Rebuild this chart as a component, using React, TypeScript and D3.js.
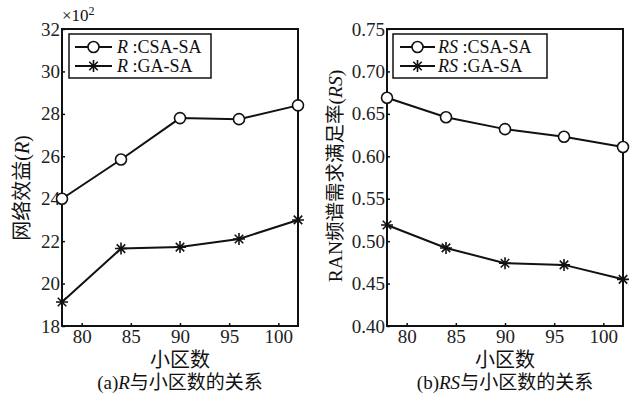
import { axisBottom, axisLeft, line, scaleLinear, select } from 'd3';
import React, { useEffect, useRef } from 'react';

// 小区数
const cells = [78, 84, 90, 96, 102];
const xTicks = [80, 85, 90, 95, 100];

// (a) 网络效益 R (×10^2)
const rCsa = [24.0, 25.85, 27.8, 27.75, 28.4];
const rGa = [19.13, 21.65, 21.72, 22.1, 23.0];
const rTicks = [18, 20, 22, 24, 26, 28, 30, 32];

// (b) RAN 频谱需求满足率 RS
const rsCsa = [0.669, 0.646, 0.632, 0.623, 0.611];
const rsGa = [0.519, 0.492, 0.474, 0.472, 0.455];
const rsTicks = [0.4, 0.45, 0.5, 0.55, 0.6, 0.65, 0.7, 0.75];

const serif = 'Liberation Serif, DejaVu Serif, Times New Roman, serif';
const cjk = 'Liberation Serif, Noto Sans CJK SC, serif';

function drawPanel(g, opts) {
  const { x0, x1, y0, y1, domain, ticks, fmt, csa, ga, legendX, legendW, leg, sym, ylabel, caption, xlabelX } = opts;
  const x = scaleLinear().domain([78, 102]).range([x0, x1]);
  const y = scaleLinear().domain(domain).range([y1, y0]);

  g.append('rect')
    .attr('x', x0).attr('y', y0)
    .attr('width', x1 - x0).attr('height', y1 - y0)
    .attr('fill', 'none').attr('stroke', '#111').attr('stroke-width', 2);

  const yAxis = g.append('g')
    .attr('transform', `translate(${x0},0)`)
    .call(axisLeft(y).tickValues(ticks).tickFormat(fmt).tickSizeInner(-3).tickSizeOuter(0).tickPadding(2));
  const xAxis = g.append('g')
    .attr('transform', `translate(0,${y1})`)
    .call(axisBottom(x).tickValues(xTicks).tickSizeInner(-3).tickSizeOuter(0).tickPadding(4));
  [yAxis, xAxis].forEach(a => {
    a.attr('font-family', serif).attr('font-size', 19);
    a.select('.domain').remove();
    a.selectAll('line').attr('stroke', '#111').attr('stroke-width', 1.5);
    a.selectAll('text').attr('fill', '#222');
  });

  const gen = line().x((d, i) => x(cells[i])).y(d => y(d));
  [csa, ga].forEach(s => {
    g.append('path').attr('d', gen(s)).attr('fill', 'none')
      .attr('stroke', '#111').attr('stroke-width', 2);
  });

  const circle = (sel, cx, cy) =>
    sel.append('circle').attr('cx', cx).attr('cy', cy).attr('r', 5.5)
      .attr('fill', 'white').attr('stroke', '#111').attr('stroke-width', 1.6);
  const star = (sel, cx, cy) => {
    const r = 6;
    const d = [0, 45, 90, 135].map(a => {
      const t = (a * Math.PI) / 180;
      const dx = r * Math.cos(t), dy = r * Math.sin(t);
      return `M${cx - dx},${cy - dy}L${cx + dx},${cy + dy}`;
    }).join('');
    sel.append('path').attr('d', d).attr('stroke', '#111').attr('stroke-width', 1.6);
  };
  csa.forEach((v, i) => circle(g, x(cells[i]), y(v)));
  ga.forEach((v, i) => star(g, x(cells[i]), y(v)));

  // legend
  const ly = y0 + 5;
  g.append('rect').attr('x', legendX).attr('y', ly).attr('width', legendW).attr('height', 44)
    .attr('fill', 'white').attr('stroke', '#111').attr('stroke-width', 1.5);
  [['CSA-SA', circle], ['GA-SA', star]].forEach(([name, mark], i) => {
    const cy = ly + 13 + i * 19;
    g.append('line').attr('x1', legendX + leg[0]).attr('x2', legendX + leg[1])
      .attr('y1', cy).attr('y2', cy).attr('stroke', '#111').attr('stroke-width', 2);
    mark(g, legendX + (leg[0] + leg[1]) / 2, cy);
    const t = g.append('text').attr('x', legendX + leg[2]).attr('y', cy + 6)
      .attr('font-family', serif).attr('font-size', 18).attr('fill', '#111');
    t.append('tspan').attr('font-style', 'italic').text(sym);
    t.append('tspan').text(` :${name}`);
  });

  // axis labels
  const yl = g.append('text')
    .attr('transform', `translate(${opts.ylabelX},${opts.ylabelY}) rotate(-90)`)
    .attr('text-anchor', 'middle').attr('dy', '0.35em')
    .attr('font-family', cjk).attr('font-size', opts.ylabelSize).attr('fill', '#111');
  yl.append('tspan').text(ylabel);
  yl.append('tspan').text('(');
  yl.append('tspan').attr('font-style', 'italic').text(sym);
  yl.append('tspan').text(')');

  g.append('text').attr('x', xlabelX).attr('y', 367).attr('text-anchor', 'middle')
    .attr('font-family', cjk).attr('font-size', 20).attr('fill', '#111').text('小区数');

  const cap = g.append('text').attr('x', xlabelX).attr('y', 389).attr('text-anchor', 'middle')
    .attr('font-family', cjk).attr('font-size', 19).attr('fill', '#111');
  cap.append('tspan').text(caption);
  cap.append('tspan').attr('font-style', 'italic').text(sym);
  cap.append('tspan').text('与小区数的关系');
}

export default function App() {
  const svgRef = useRef(null);

  useEffect(() => {
    const svg = select(svgRef.current);
    svg.selectAll('*').remove();
    svg.append('rect').attr('width', 632).attr('height', 394).attr('fill', 'white');

    drawPanel(svg.append('g'), {
      x0: 62, x1: 298, y0: 29, y1: 326,
      domain: [18, 32], ticks: rTicks, fmt: d => `${d}`,
      csa: rCsa, ga: rGa, legendX: 69, legendW: 142, leg: [6, 43, 48], sym: 'R',
      ylabel: '网络效益', ylabelX: 22, ylabelY: 188, ylabelSize: 20, caption: '(a)', xlabelX: 180,
    });
    const exp = svg.append('text').attr('x', 62).attr('y', 21)
      .attr('font-family', serif).attr('font-size', 17).attr('fill', '#111');
    exp.append('tspan').text('×10');
    exp.append('tspan').attr('dy', -6).attr('font-size', 12).text('2');

    drawPanel(svg.append('g'), {
      x0: 387, x1: 623, y0: 29, y1: 326,
      domain: [0.4, 0.75], ticks: rsTicks, fmt: d => d.toFixed(2),
      csa: rsCsa, ga: rsGa, legendX: 393, legendW: 154, leg: [7, 42, 45], sym: 'RS',
      ylabel: 'RAN频谱需求满足率', ylabelX: 335, ylabelY: 176, ylabelSize: 19.5, caption: '(b)', xlabelX: 505,
    });
  }, []);

  return (
    <svg ref={svgRef} width={632} height={394}
      style={{ position: 'absolute', left: 0, top: 0 }} />
  );
}
